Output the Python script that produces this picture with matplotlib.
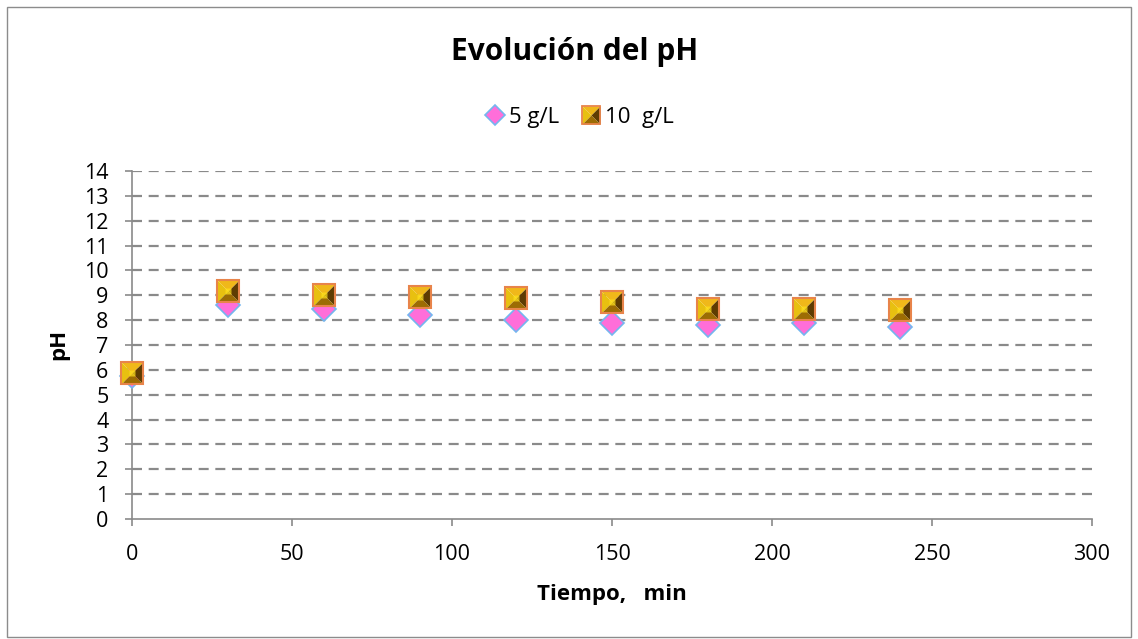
import numpy as np
import matplotlib
matplotlib.use('Agg')
import matplotlib.pyplot as plt
from matplotlib.patches import Rectangle
from matplotlib.lines import Line2D
from matplotlib.legend_handler import HandlerTuple

# data
tiempo = [0, 30, 60, 90, 120, 150, 180, 210, 240]
ph_5 = [5.75, 8.6, 8.45, 8.2, 8.0, 7.87, 7.8, 7.88, 7.73]
ph_10 = [5.87, 9.17, 9.0, 8.94, 8.88, 8.74, 8.43, 8.43, 8.4]

plt.rcParams['font.family'] = ['Open Sans', 'DejaVu Sans']

W, H = 1138, 639
fig = plt.figure(figsize=(W/100, H/100), dpi=100)
ax = fig.add_axes([132/W, 1-519/H, 960/W, 348/H])

# outer chart frame
fig.patches.append(Rectangle((7/W, 2/H), 1124/W, 630/H, transform=fig.transFigure,
                             fill=False, edgecolor='#8c8c8c', linewidth=1))

# dashed gridlines
for yv in range(1, 15):
    ax.axhline(yv, color='#8a8a8a', linestyle=(0, (4.5, 3)), linewidth=1.6, zorder=1)

# 5 g/L diamonds
ax.plot(tiempo, ph_5, linestyle='none', marker='D', markersize=12.5,
        markerfacecolor='#ff6ed9', markeredgecolor='#74b6ef', markeredgewidth=1.2,
        clip_on=False, zorder=3)

# 10 g/L bevelled squares, built from four triangles
tri_top = [(-1, 1), (1, 1), (0, 0)]
tri_left = [(-1, 1), (-1, -1), (0, 0)]
tri_right = [(1, 1), (1, -1), (0, 0)]
tri_bottom = [(-1, -1), (1, -1), (0, 0)]
bevel = [(tri_top, '#f0b81a'), (tri_left, '#e8c010'),
         (tri_right, '#5e3c02'), (tri_bottom, '#9c6c04')]
sq_ms = 16
handles_10 = []
for verts, col in bevel:
    ax.plot(tiempo, ph_10, linestyle='none', marker=verts, markersize=sq_ms,
            markerfacecolor=col, markeredgecolor='none', clip_on=False, zorder=4)
    handles_10.append(Line2D([], [], linestyle='none', marker=verts, markersize=13,
                             markerfacecolor=col, markeredgecolor='none'))
ax.plot(tiempo, ph_10, linestyle='none', marker='s', markersize=5,
        markerfacecolor='#ffe21a', markeredgecolor='none', alpha=0.7,
        clip_on=False, zorder=5)
ax.plot(tiempo, ph_10, linestyle='none', marker='s', markersize=sq_ms,
        markerfacecolor='none', markeredgecolor='#e8844a', markeredgewidth=1.5,
        clip_on=False, zorder=6)
handles_10.append(Line2D([], [], linestyle='none', marker='s', markersize=13,
                         markerfacecolor='none', markeredgecolor='#e8844a',
                         markeredgewidth=1.3))
handle_5 = Line2D([], [], linestyle='none', marker='D', markersize=10,
                  markerfacecolor='#ff6ed9', markeredgecolor='#74b6ef', markeredgewidth=1.2)

ax.set_xlim(0, 300)
ax.set_ylim(0, 14)
ax.set_xticks(np.arange(0, 301, 50))
ax.set_yticks(np.arange(0, 15, 1))
ax.tick_params(axis='both', labelsize=15.5, color='#8a8a8a', length=5, width=1.2)
ax.tick_params(axis='y', pad=12)
ax.tick_params(axis='x', pad=13)

for side in ['top', 'right']:
    ax.spines[side].set_visible(False)
for side in ['left', 'bottom']:
    ax.spines[side].set_color('#8a8a8a')
    ax.spines[side].set_linewidth(1.2)

ax.set_xlabel('Tiempo,   min', fontsize=16, fontweight='bold', labelpad=14)
fig.text(59/W, 1-344/H, 'pH', fontsize=16, fontweight='bold', rotation=90,
         ha='center', va='center')

fig.text(575/W, 1-52/H, 'Evolución del pH', fontsize=21.5, fontweight='bold',
         ha='center', va='center')

fig.legend([handle_5, tuple(handles_10)], ['5 g/L', '10  g/L'],
           handler_map={tuple: HandlerTuple(ndivide=1, pad=0)},
           loc='center', bbox_to_anchor=(580/W, 1-117/H), ncol=2, frameon=False,
           fontsize=16, handlelength=0.8, handletextpad=0.25, columnspacing=1.0)

fig.savefig('out.png', dpi=100)
